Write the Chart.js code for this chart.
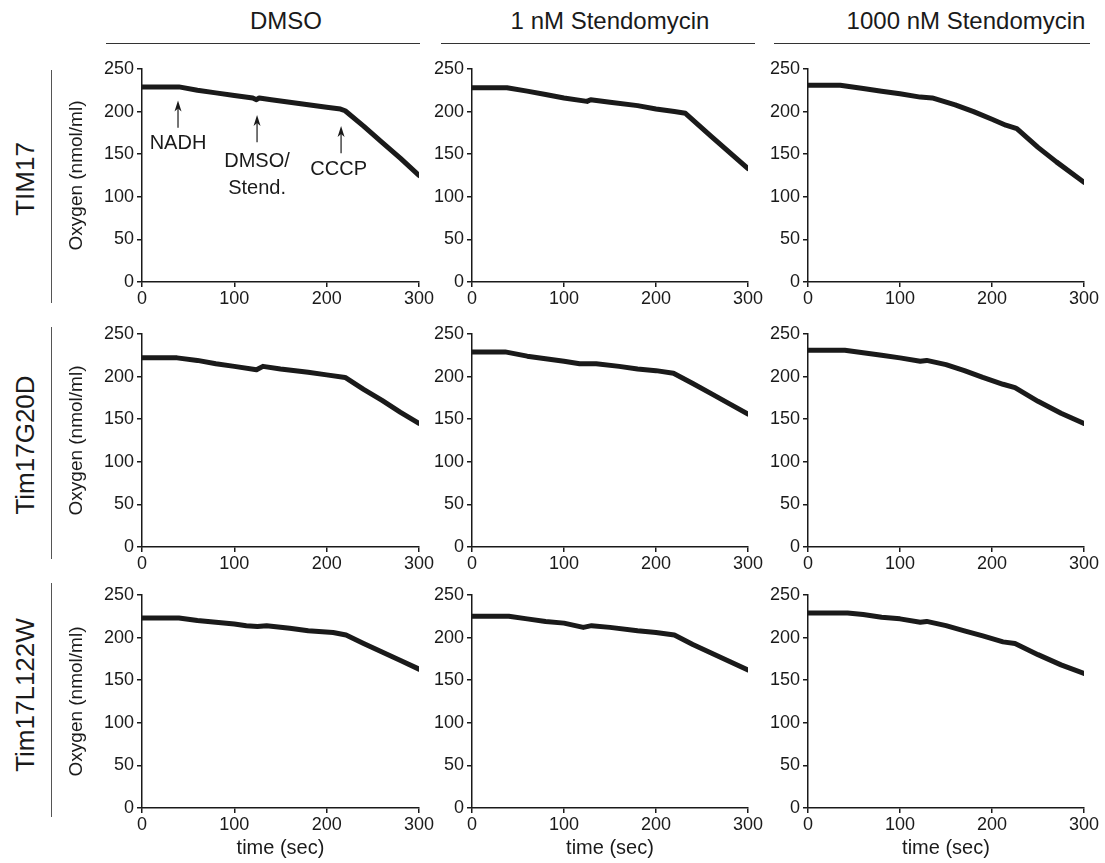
<!DOCTYPE html>
<html lang="en">

<head>
    <meta charset="UTF-8">
    <title>Oxygen consumption</title>
    <script src="https://cdn.jsdelivr.net/npm/chart.js"></script>
    <style>
        body {
            margin: 0;
            width: 1105px;
            height: 863px;
            position: relative;
            background: #fff;
            font-family: "Liberation Sans", Arial, sans-serif;
            color: #1a1a1a;
            overflow: hidden;
        }

        .panel {
            position: absolute;
        }

        .colTitle {
            position: absolute;
            top: 7px;
            font-size: 24px;
            white-space: nowrap;
            transform: translateX(-50%);
        }

        .colLine {
            position: absolute;
            top: 43px;
            height: 0;
            border-top: 1px solid #333;
        }

        .rowLabel {
            position: absolute;
            font-size: 26px;
            white-space: nowrap;
            transform: translate(-50%, -50%) rotate(-90deg);
        }

        .rowLine {
            position: absolute;
            left: 51px;
            width: 0;
            border-left: 1px solid #555;
        }
    </style>
</head>

<body>
    <div class="colTitle" style="left:286px">DMSO</div>
    <div class="colTitle" style="left:610px">1 nM Stendomycin</div>
    <div class="colTitle" style="left:966px">1000 nM Stendomycin</div>
    <div class="colLine" style="left:106px;width:314px"></div>
    <div class="colLine" style="left:441px;width:314px"></div>
    <div class="colLine" style="left:774px;width:316px"></div>

    <div class="rowLabel" style="left:25px;top:179px">TIM17</div>
    <div class="rowLabel" style="left:25px;top:445px">Tim17G20D</div>
    <div class="rowLabel" style="left:25px;top:695px">Tim17L122W</div>
    <div class="rowLine" style="top:70px;height:233px"></div>
    <div class="rowLine" style="top:327px;height:232px"></div>
    <div class="rowLine" style="top:583px;height:234px"></div>

    <script>
        const strains = ['TIM17', 'Tim17G20D', 'Tim17L122W'];
        const treatments = ['DMSO', '1 nM Stendomycin', '1000 nM Stendomycin'];
        const yTicks = [0, 50, 100, 150, 200, 250];
        const xTicks = [0, 100, 200, 300];

        // TIM17
        const tTim17Dmso = [0, 40, 60, 80, 100, 120, 124, 127, 140, 160, 180, 200, 215, 220, 240, 260, 280, 300];
        const oTim17Dmso = [229, 229, 225, 222, 219, 216, 214, 216, 214, 211, 208, 205, 203, 201, 183, 164, 145, 125];
        const tTim17Low = [0, 38, 60, 80, 100, 125, 129, 150, 180, 200, 220, 232, 260, 300];
        const oTim17Low = [228, 228, 224, 220, 216, 212, 214, 211, 207, 203, 200, 198, 171, 133];
        const tTim17High = [0, 35, 60, 80, 100, 122, 135, 160, 180, 200, 215, 227, 250, 270, 300];
        const oTim17High = [231, 231, 227, 224, 221, 217, 216, 208, 200, 191, 184, 180, 158, 141, 117];

        // Tim17G20D
        const tG20DDmso = [0, 38, 60, 80, 100, 124, 131, 150, 180, 200, 220, 240, 260, 280, 300];
        const oG20DDmso = [222, 222, 219, 215, 212, 208, 212, 209, 205, 202, 199, 185, 172, 158, 145];
        const tG20DLow = [0, 36, 60, 80, 100, 117, 135, 160, 180, 200, 219, 240, 260, 280, 300];
        const oG20DLow = [229, 229, 224, 221, 218, 215, 215, 212, 209, 207, 204, 192, 180, 168, 156];
        const tG20DHigh = [0, 40, 60, 80, 100, 122, 129, 150, 170, 190, 212, 225, 250, 275, 300];
        const oG20DHigh = [231, 231, 228, 225, 222, 218, 219, 214, 207, 199, 191, 187, 171, 157, 145];

        // Tim17L122W
        const tL122WDmso = [0, 40, 60, 80, 100, 113, 125, 135, 160, 180, 207, 221, 240, 260, 280, 300];
        const oL122WDmso = [223, 223, 220, 218, 216, 214, 213, 214, 211, 208, 206, 203, 193, 183, 173, 163];
        const tL122WLow = [0, 40, 60, 80, 100, 121, 130, 150, 180, 200, 220, 240, 260, 280, 300];
        const oL122WLow = [225, 225, 222, 219, 217, 212, 214, 212, 208, 206, 203, 192, 182, 172, 162];
        const tL122WHigh = [0, 43, 60, 80, 100, 122, 129, 150, 170, 190, 212, 225, 250, 275, 300];
        const oL122WHigh = [229, 229, 227, 224, 222, 218, 219, 214, 208, 202, 195, 193, 180, 168, 158];

        // additions marked in the first panel
        const markLabels = [['NADH'], ['DMSO/', 'Stend.'], ['CCCP']];
        const markTimes = [39, 124.6, 215.6];
        const markTips = [213, 196, 183];
        const markTails = [181, 164, 151];
        const markTextTimes = [39, 124.6, 213];
        const markTextLevels = [[163], [141, 110], [131.5]];

        const panels = [
            [tTim17Dmso, oTim17Dmso], [tTim17Low, oTim17Low], [tTim17High, oTim17High],
            [tG20DDmso, oG20DDmso], [tG20DLow, oG20DLow], [tG20DHigh, oG20DHigh],
            [tL122WDmso, oL122WDmso], [tL122WLow, oL122WLow], [tL122WHigh, oL122WHigh]
        ];

        const plotLeft = [142, 472, 808];
        const plotWidth = [277, 276, 276];
        const plotTop = [69, 334, 595];
        const plotHeight = 213;
        const padTop = 14;
        const padRight = 24;
        const ink = '#1a1a1a';
        const fontFamily = '"Liberation Sans", Arial, sans-serif';

        Chart.defaults.font.family = fontFamily;
        Chart.defaults.color = ink;

        const markerPlugin = {
            id: 'markers',
            afterDatasetsDraw(chart) {
                const ctx = chart.ctx;
                const xs = chart.scales.x;
                const ys = chart.scales.y;
                ctx.save();
                ctx.strokeStyle = ink;
                ctx.fillStyle = ink;
                ctx.lineWidth = 1.2;
                markTimes.forEach((t, i) => {
                    const x = xs.getPixelForValue(t);
                    const yTip = ys.getPixelForValue(markTips[i]);
                    const yTail = ys.getPixelForValue(markTails[i]);
                    ctx.beginPath();
                    ctx.moveTo(x, yTail);
                    ctx.lineTo(x, yTip + 6);
                    ctx.stroke();
                    ctx.beginPath();
                    ctx.moveTo(x, yTip);
                    ctx.lineTo(x - 3.5, yTip + 11);
                    ctx.lineTo(x, yTip + 8);
                    ctx.lineTo(x + 3.5, yTip + 11);
                    ctx.closePath();
                    ctx.fill();

                    ctx.font = '20px ' + fontFamily;
                    ctx.textAlign = 'center';
                    ctx.textBaseline = 'middle';
                    const tx = xs.getPixelForValue(markTextTimes[i]);
                    markLabels[i].forEach((txt, j) => {
                        ctx.fillText(txt, tx, ys.getPixelForValue(markTextLevels[i][j]));
                    });
                });
                ctx.restore();
            }
        };

        panels.forEach(([times, levels], idx) => {
            const row = Math.floor(idx / 3);
            const col = idx % 3;
            const yW = col === 0 ? 77 : 45;
            const xH = row === 2 ? 52 : 32;

            const box = document.createElement('div');
            box.className = 'panel';
            box.style.left = (plotLeft[col] - yW) + 'px';
            box.style.top = (plotTop[row] - padTop) + 'px';
            box.style.width = (yW + plotWidth[col] + padRight) + 'px';
            box.style.height = (padTop + plotHeight + xH) + 'px';
            const canvas = document.createElement('canvas');
            box.appendChild(canvas);
            document.body.appendChild(box);

            new Chart(canvas, {
                type: 'line',
                data: {
                    datasets: [{
                        label: strains[row] + ' ' + treatments[col],
                        data: times.map((t, i) => ({ x: t, y: levels[i] })),
                        borderColor: ink,
                        borderWidth: 5,
                        pointRadius: 0,
                        tension: 0,
                        borderCapStyle: 'round',
                        borderJoinStyle: 'round'
                    }]
                },
                options: {
                    responsive: true,
                    maintainAspectRatio: false,
                    animation: false,
                    layout: { padding: { top: padTop, right: padRight, left: 0, bottom: 0 } },
                    plugins: {
                        legend: { display: false },
                        tooltip: { enabled: false }
                    },
                    scales: {
                        x: {
                            type: 'linear',
                            min: 0,
                            max: 300,
                            afterBuildTicks: s => { s.ticks = xTicks.map(v => ({ value: v })); },
                            afterFit: s => { s.height = xH; },
                            border: { display: true, color: ink, width: 1.5 },
                            grid: { drawOnChartArea: false, tickLength: 5, color: ink, lineWidth: 1.5 },
                            ticks: { font: { size: 18 }, padding: 1, maxRotation: 0, color: ink },
                            title: {
                                display: row === 2,
                                text: 'time (sec)',
                                font: { size: 20 },
                                padding: 0,
                                color: ink
                            }
                        },
                        y: {
                            min: 0,
                            max: 250,
                            afterBuildTicks: s => { s.ticks = yTicks.map(v => ({ value: v })); },
                            afterFit: s => { s.width = yW; },
                            border: { display: true, color: ink, width: 1.5 },
                            grid: { drawOnChartArea: false, tickLength: 5, color: ink, lineWidth: 1.5 },
                            ticks: { font: { size: 18 }, padding: 3, color: ink },
                            title: {
                                display: col === 0,
                                text: 'Oxygen (nmol/ml)',
                                font: { size: 19 },
                                padding: 0,
                                color: ink
                            }
                        }
                    }
                },
                plugins: idx === 0 ? [markerPlugin] : []
            });
        });
    </script>
</body>

</html>
